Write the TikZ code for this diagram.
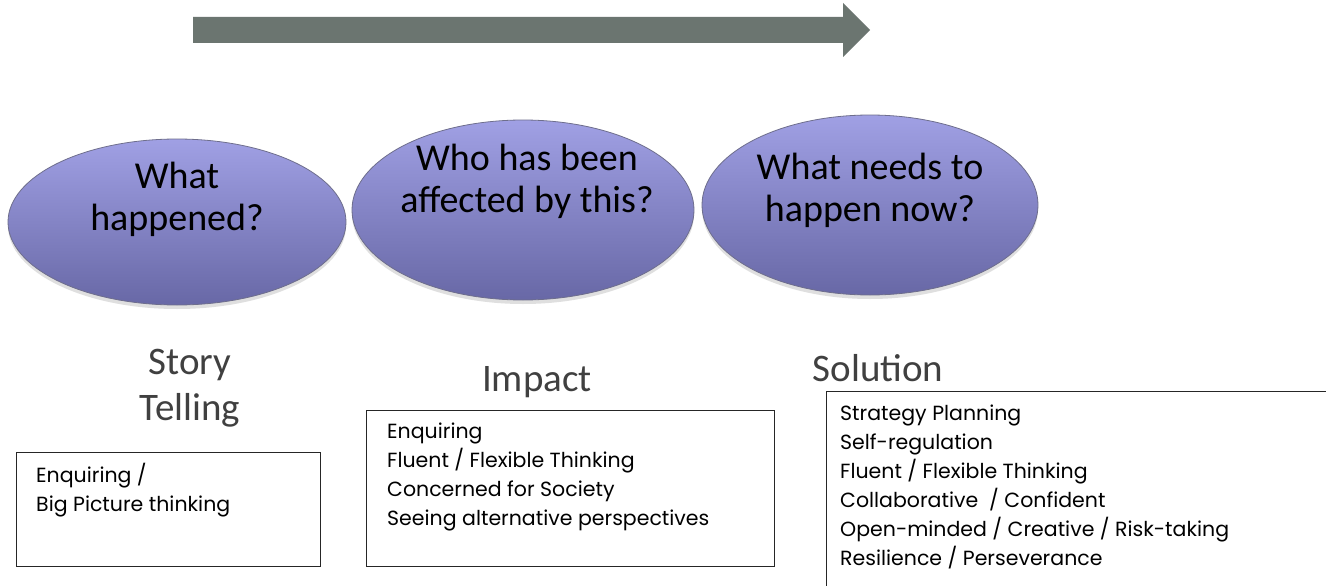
\documentclass[tikz,border=0pt]{standalone}
\usepackage{fontspec}
\setmainfont{Carlito}
\newfontfamily\boxfont{Poppins}
\usetikzlibrary{shapes.geometric,shadows}
\definecolor{arrowgray}{RGB}{107,117,112}
\definecolor{elltop}{RGB}{160,160,228}
\definecolor{ellbot}{RGB}{104,104,166}
\definecolor{elledge}{RGB}{110,110,140}
\definecolor{labelgray}{RGB}{64,64,64}
\tikzset{
  bubble/.style={ellipse, draw=elledge, line width=0.8pt, top color=elltop, bottom color=ellbot,
    inner sep=0pt, drop shadow={shadow xshift=0pt, shadow yshift=-4pt, opacity=0.25}},
  bubbletext/.style={align=center, font=\fontsize{38}{42}\selectfont, inner sep=0pt},
  stage/.style={font=\fontsize{39}{46}\selectfont, text=labelgray, align=center, inner sep=0pt},
  skillbox/.style={draw=black!85, line width=1pt},
  skilltext/.style={anchor=north west, align=left, inner sep=0pt, font=\boxfont\fontsize{20.5}{29}\selectfont}
}
\begin{document}
\begin{tikzpicture}[x=1pt,y=-1pt]
\useasboundingbox (0,0) rectangle (1326,586);
\fill[white] (0,0) rectangle (1326,586);
% big arrow
\fill[arrowgray] (193,17) -- (843,17) -- (843,3) -- (870,30) -- (843,57) -- (843,43) -- (193,43) -- cycle;
% ellipses
\node[bubble, minimum width=338pt, minimum height=166pt] (e1) at (177,222) {};
\node[bubble, minimum width=342pt, minimum height=180pt] (e2) at (523,210) {};
\node[bubble, minimum width=336pt, minimum height=180pt] (e3) at (870,205) {};
\node[bubbletext] (q1) at (177,199) {What\\happened?};
\node[bubbletext] (q2) at (527,181) {Who has been\\affected by this?};
\node[bubbletext] (q3) at (870,190) {What needs to\\happen now?};
% stage labels
\node[stage] (l1) at (190,388) {Story\\Telling};
\node[stage] (l2) at (537,382) {Impact};
\node[stage] (l3) at (878,368) {Solution};
% boxes
\draw[skillbox] (16,452) rectangle (320,566);
\node[skilltext] (t1) at (36,463) {Enquiring /\\Big Picture thinking};
\draw[skillbox] (366,410) rectangle (774,566);
\node[skilltext] (t2) at (387,423) {Enquiring\\Fluent / Flexible Thinking\\Concerned for Society\\Seeing alternative perspectives};
\draw[skillbox] (1340,391) -- (826,391) -- (826,600);
\node[skilltext] (t3) at (840,405) {Strategy Planning\\Self-regulation\\Fluent / Flexible Thinking\\Collaborative \ / Confident\\Open-minded / Creative / Risk-taking\\Resilience / Perseverance};
\end{tikzpicture}
\end{document}
